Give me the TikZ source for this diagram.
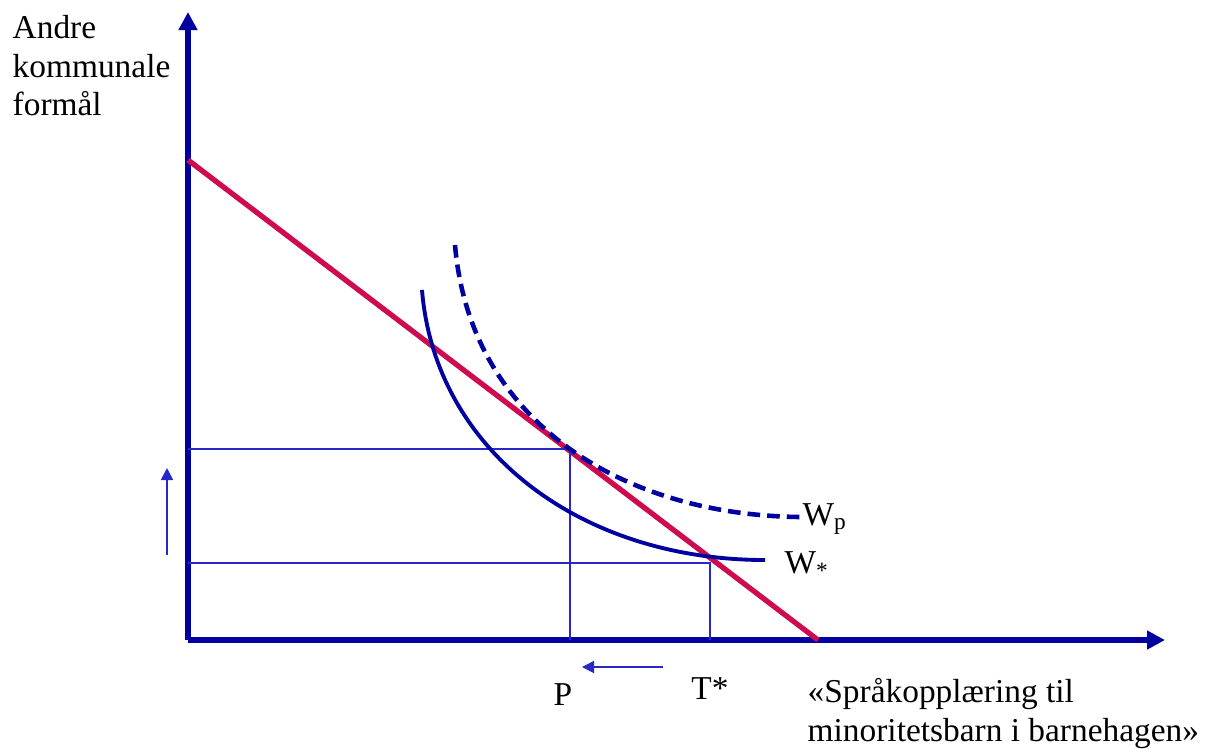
\documentclass[tikz,border=0pt]{standalone}
\usepackage{fontspec}
\setmainfont{Liberation Serif}
\usepackage{xcolor}
\usepackage{tikz}
\usetikzlibrary{arrows.meta, positioning, calc}

\definecolor{axisblue}{RGB}{0,0,160}
\definecolor{guideblue}{RGB}{40,40,200}
\definecolor{budgetred}{RGB}{206,10,80}

\begin{document}
\begin{tikzpicture}[
    axis/.style={draw=axisblue, line width=1.5pt, -{Triangle[length=1.8mm, width=1.8mm]}},
    budget/.style={draw=budgetred, line width=1.5pt},
    indiff/.style={draw=axisblue, line width=1.1pt},
    guide/.style={draw=guideblue, line width=0.4pt},
    movearrow/.style={draw=guideblue, line width=0.5pt, -{Triangle[length=1.2mm, width=1.2mm]}},
    lbl/.style={font=\fontsize{9.5}{10.9}\selectfont, inner sep=0pt},
]
\useasboundingbox (0,0) rectangle (12.27,7.49);

% Axes
\coordinate (O) at (1.88,1.09);
\coordinate (ytop) at (1.88,7.37);
\coordinate (xend) at (11.65,1.09);
\draw[axis] (O) -- (ytop);
\draw[axis] (O) -- (xend);

% Budget line
\coordinate (bl) at (1.88,5.89);
\coordinate (br) at (8.18,1.09);
\draw[budget] (bl) -- (br);

% Guide lines to the two points
\coordinate (pp) at (5.70,3.00);
\coordinate (ts) at (7.10,1.86);
\draw[guide] (pp -| O) -- (pp) -- (pp |- O);
\draw[guide] (ts -| O) -- (ts) -- (ts |- O);

% Indifference curves
\draw[indiff] (4.22,4.59) .. controls (4.35,2.99) and (5.80,1.89) .. (7.65,1.89);
\draw[indiff, line width=1.3pt, dash pattern=on 3.6pt off 2pt] (4.55,5.04) .. controls (4.70,3.29) and (6.20,2.34) .. (8.00,2.32);

% Labels
\node[lbl, anchor=north west, align=left] (ylab) at (0.12,7.34) {Andre\\kommunale\\formål};
\node[lbl, anchor=north west, align=left] (xlab) at (8.07,0.71) {«Språkopplæring til\\minoritetsbarn i barnehagen»};
\node[lbl] (plab) at (5.63,0.54) {P};
\node[lbl] (tlab) at (7.10,0.60) {T*};
\node[lbl, anchor=west] (wp) at (8.02,2.30) {W\textsubscript{p}};
\node[lbl, anchor=west] (ws) at (7.84,1.84) {W\textsubscript{*}};

% Shift arrows
\coordinate (ua) at (1.67,1.94);
\coordinate (ub) at (1.67,2.81);
\draw[movearrow] (ua) -- (ub);
\coordinate (la) at (6.63,0.82);
\coordinate (lb) at (5.82,0.82);
\draw[movearrow] (la) -- (lb);

\end{tikzpicture}
\end{document}
